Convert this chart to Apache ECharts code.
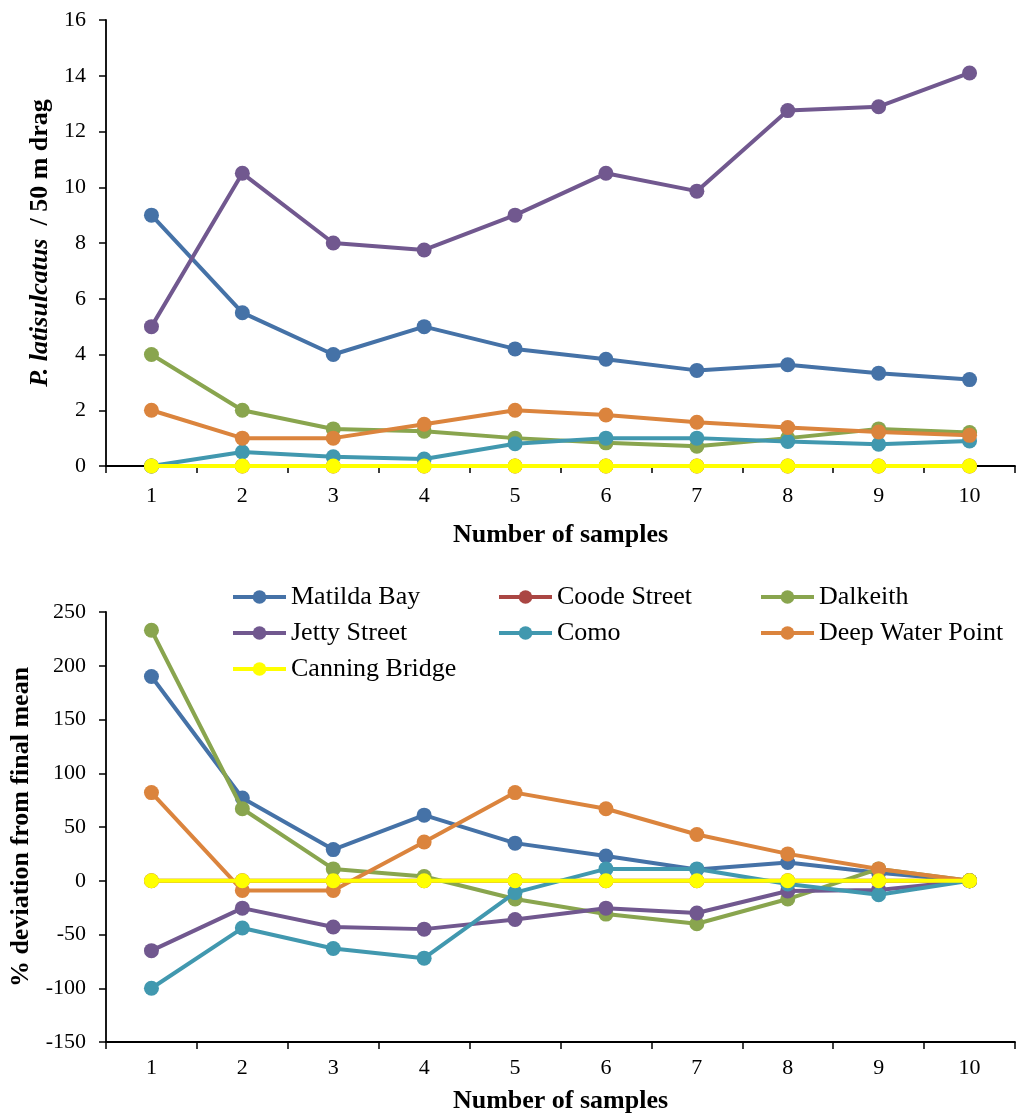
<!DOCTYPE html>
<html>
<head>
<meta charset="utf-8">
<script src="https://cdn.jsdelivr.net/npm/echarts@6/dist/echarts.min.js"></script>
<style>
html,body{margin:0;padding:0;background:#fff;}
#chart{width:1017px;height:1115px;}
</style>
</head>
<body>
<div id="chart"></div>
<script>
var categories = ['1','2','3','4','5','6','7','8','9','10'];
var seriesNames = ['Matilda Bay','Coode Street','Dalkeith','Jetty Street','Como','Deep Water Point','Canning Bridge'];
var seriesColors = ['#4572A7','#AA4643','#89A54E','#71588F','#4198AF','#DB843D','#FFFF00'];

// Top chart: P. latisulcatus / 50 m drag
var topMatilda   = [9, 5.5, 4, 5, 4.2, 3.83, 3.43, 3.63, 3.33, 3.1];
var topCoode     = [0, 0, 0, 0, 0, 0, 0, 0, 0, 0];
var topDalkeith  = [4, 2, 1.33, 1.25, 1.0, 0.83, 0.71, 1.0, 1.33, 1.2];
var topJetty     = [5, 10.5, 8, 7.75, 9, 10.5, 9.86, 12.75, 12.89, 14.1];
var topComo      = [0, 0.5, 0.33, 0.25, 0.8, 1.0, 1.0, 0.88, 0.78, 0.9];
var topDeepWater = [2, 1, 1, 1.5, 2, 1.83, 1.57, 1.38, 1.22, 1.1];
var topCanning   = [0, 0, 0, 0, 0, 0, 0, 0, 0, 0];

// Bottom chart: % deviation from final mean
var botMatilda   = [190, 77, 29, 61, 35, 23, 10.5, 17, 7.5, 0];
var botCoode     = [0, 0, 0, 0, 0, 0, 0, 0, 0, 0];
var botDalkeith  = [233, 67, 11, 4, -17, -31, -40, -17, 11, 0];
var botJetty     = [-65, -25.5, -43, -45, -36, -25.5, -30, -9.5, -8.5, 0];
var botComo      = [-100, -44, -63, -72, -11, 11, 11, -3, -13, 0];
var botDeepWater = [82, -9, -9, 36, 82, 67, 43, 25, 11, 0];
var botCanning   = [0, 0, 0, 0, 0, 0, 0, 0, 0, 0];

var topTicks = {min: 0, max: 16, interval: 2};
var botTicks = {min: -150, max: 250, interval: 50};

var topData = [topMatilda, topCoode, topDalkeith, topJetty, topComo, topDeepWater, topCanning];
var botData = [botMatilda, botCoode, botDalkeith, botJetty, botComo, botDeepWater, botCanning];

var FONT = '"Liberation Serif", "Times New Roman", serif';

function mkSeries(dataArr, axisIdx) {
  return seriesNames.map(function (n, i) {
    return {
      name: n, type: 'line', xAxisIndex: axisIdx, yAxisIndex: axisIdx,
      data: dataArr[i], symbol: 'circle', symbolSize: 15,
      lineStyle: {width: 4, color: seriesColors[i]},
      itemStyle: {color: seriesColors[i]},
      animation: false, z: 2 + i
    };
  });
}

function xAxisCfg(idx, labelMargin, nameGap) {
  return {
    type: 'category', gridIndex: idx, data: categories, boundaryGap: true,
    axisLine: {onZero: false, lineStyle: {color: '#000', width: 1.8}},
    axisTick: {show: true, inside: false, length: 7, lineStyle: {color: '#000', width: 1.5}},
    axisLabel: {color: '#000', fontFamily: FONT, fontSize: 22, margin: labelMargin},
    name: 'Number of samples', nameLocation: 'middle', nameGap: nameGap,
    nameTextStyle: {color: '#000', fontFamily: FONT, fontSize: 26, fontWeight: 'bold'},
    splitLine: {show: false}
  };
}

function yAxisCfg(idx, t, name, nameGap, rich) {
  var cfg = {
    type: 'value', gridIndex: idx, min: t.min, max: t.max, interval: t.interval,
    axisLine: {show: true, onZero: false, lineStyle: {color: '#000', width: 1.8}},
    axisTick: {show: true, inside: false, length: 7, lineStyle: {color: '#000', width: 1.5}},
    axisLabel: {color: '#000', fontFamily: FONT, fontSize: 22, margin: 20},
    splitLine: {show: false},
    name: name, nameLocation: 'middle', nameRotate: 90, nameGap: nameGap,
    nameTextStyle: {color: '#000', fontFamily: FONT, fontSize: 26, fontWeight: 'bold'}
  };
  if (rich) cfg.nameTextStyle.rich = rich;
  return cfg;
}

function mkLegend(left, names) {
  return {
    orient: 'vertical', left: left, top: 579, data: names,
    itemWidth: 53, itemHeight: 17, itemGap: 10,
    lineStyle: {width: 4},
    textStyle: {color: '#000', fontFamily: FONT, fontSize: 26, lineHeight: 26}
  };
}

var chart = echarts.init(document.getElementById('chart'), null, {renderer: 'canvas'});
chart.setOption({
  backgroundColor: '#fff',
  animation: false,
  grid: [
    {left: 106, top: 20, width: 909, height: 446},
    {left: 106, top: 612, width: 909, height: 432}
  ],
  legend: [
    mkLegend(226, ['Matilda Bay', 'Jetty Street', 'Canning Bridge']),
    mkLegend(492, ['Coode Street', 'Como']),
    mkLegend(754, ['Dalkeith', 'Deep Water Point'])
  ],
  xAxis: [xAxisCfg(0, 19, 56), xAxisCfg(1, 15, 46)],
  yAxis: [
    yAxisCfg(0, topTicks, '{i|P. latisulcatus}{n|  / 50 m drag}', 50, {
      i: {fontFamily: FONT, fontSize: 26, fontWeight: 'bold', fontStyle: 'italic', color: '#000'},
      n: {fontFamily: FONT, fontSize: 26, fontWeight: 'bold', color: '#000'}
    }),
    yAxisCfg(1, botTicks, '% deviation from final mean', 70)
  ],
  series: mkSeries(topData, 0).concat(mkSeries(botData, 1))
});
</script>
</body>
</html>
